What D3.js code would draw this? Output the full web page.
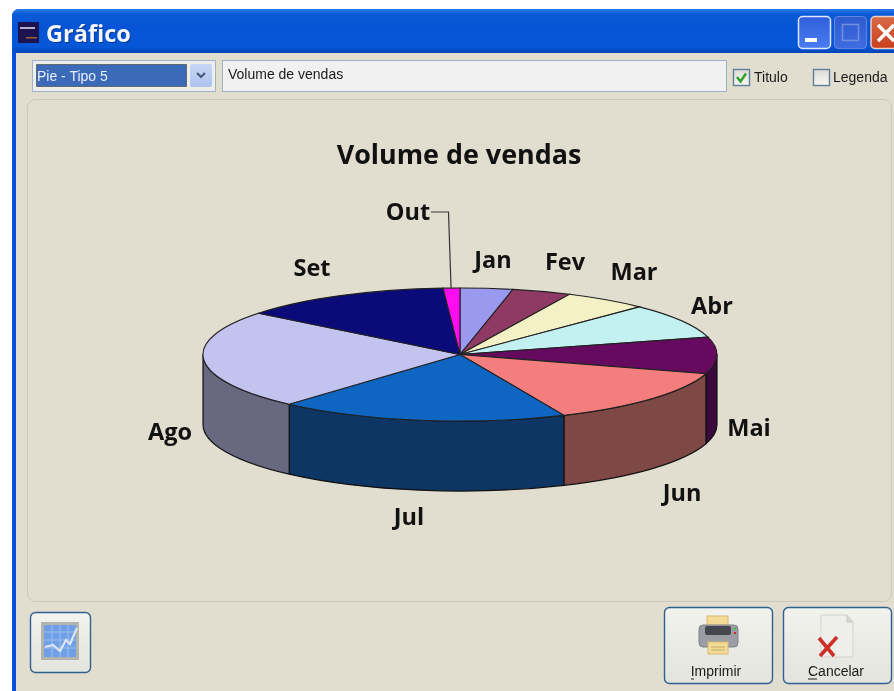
<!DOCTYPE html>
<html>
<head>
<meta charset="utf-8">
<script src="https://cdn.jsdelivr.net/npm/d3@7"></script>
<style>
    html, body { margin: 0; padding: 0; background: #fff; overflow: hidden; }
    .ui { font-family: "Liberation Sans", sans-serif; font-size: 14px; fill: #1a1a1a; }
    .pieLabel { font-family: "Open Sans", sans-serif; font-weight: 700; font-size: 23.5px; fill: #111; text-anchor: middle; }
</style>
</head>
<body>
<div id="chart"></div>
<script>
// values (share of the pie, %)
const months = ["Jan", "Fev", "Mar", "Abr", "Mai", "Jun", "Jul", "Ago", "Set", "Out"];
const sales = [3.3, 3.7, 5.3, 8.5, 8.9, 13.7, 18.2, 24.1, 13.3, 1.05];
const topColors = ["#9999f0", "#8f3a64", "#f3f1c5", "#c3f1f2", "#660a60", "#f47d7d", "#0e66c2", "#c3c3f0", "#0a0a78", "#ff0df0"];
const sideColors = ["#5c5c90", "#56233c", "#929176", "#757f80", "#3a0a3c", "#7e4845", "#0d3665", "#686880", "#06064a", "#990890"];
const chartTitle = "Volume de vendas";

const width = 894, height = 691;
const cx = 460, cy = 354.5, rx = 257, ry = 66.5, depth = 70;

// the reference is a slightly soft screenshot
const svg = d3.select("#chart").append("svg")
    .attr("width", width)
    .attr("height", height)
    .style("display", "block")
    .style("filter", "blur(0.4px)");

const defs = svg.append("defs");

function gradient(id, stops, horizontal) {
    const g = defs.append("linearGradient").attr("id", id)
        .attr("x1", "0%").attr("y1", "0%")
        .attr("x2", horizontal ? "100%" : "0%").attr("y2", horizontal ? "0%" : "100%");
    stops.forEach(s => g.append("stop").attr("offset", s[0]).attr("stop-color", s[1]));
}
gradient("titleBar", [["0%", "#2a7ae8"], ["12%", "#0a5ad8"], ["45%", "#0654d6"], ["85%", "#0558d8"], ["100%", "#0444b8"]]);
gradient("btnFace", [["0%", "#f2f2ee"], ["100%", "#e4e4de"]]);
gradient("minBtn", [["0%", "#2f5fdc"], ["100%", "#4a7df0"]]);
gradient("maxBtn", [["0%", "#2f5ad0"], ["100%", "#3f6ce0"]]);
gradient("closeBtn", [["0%", "#d86a48"], ["100%", "#c8401c"]]);
gradient("arrowBtn", [["0%", "#c5d5f5"], ["100%", "#aec4ee"]]);
gradient("checkFace", [["0%", "#dcdcd6"], ["100%", "#f6f6f4"]]);

// WINDOW
svg.append("rect").attr("x", 12).attr("y", 9).attr("width", width).attr("height", height)
    .attr("rx", 7).attr("fill", "#0a4fdc");
svg.append("rect").attr("x", 12).attr("y", 9).attr("width", width).attr("height", 44)
    .attr("rx", 7).attr("fill", "url(#titleBar)");
svg.append("rect").attr("x", 16).attr("y", 53).attr("width", width).attr("height", height)
    .attr("fill", "#e1ded0");

// app icon
svg.append("rect").attr("x", 18).attr("y", 22).attr("width", 21).attr("height", 21).attr("fill", "#1c1450");
svg.append("rect").attr("x", 20).attr("y", 27).attr("width", 15).attr("height", 2).attr("fill", "#b8b0c8");
svg.append("rect").attr("x", 26).attr("y", 37).attr("width", 11).attr("height", 1.5).attr("fill", "#a06030");

svg.append("text").attr("x", 46).attr("y", 42).text("Gráfico")
    .attr("font-family", "'Open Sans', sans-serif").attr("font-weight", 700).attr("font-size", 23.5)
    .attr("fill", "#f4f6ff").style("filter", "drop-shadow(1px 1px 0 #083a90)");

// caption buttons
svg.append("rect").attr("x", 798.5).attr("y", 16.5).attr("width", 32).attr("height", 32).attr("rx", 4)
    .attr("fill", "url(#minBtn)").attr("stroke", "#dfe8ff").attr("stroke-width", 1.5);
svg.append("rect").attr("x", 805).attr("y", 38).attr("width", 12).attr("height", 4).attr("fill", "#fff");
svg.append("rect").attr("x", 834.5).attr("y", 16.5).attr("width", 32).attr("height", 32).attr("rx", 4)
    .attr("fill", "url(#maxBtn)").attr("stroke", "#5f84e0").attr("stroke-width", 1.2);
svg.append("rect").attr("x", 842.5).attr("y", 24.5).attr("width", 16).attr("height", 16)
    .attr("fill", "none").attr("stroke", "#6f8ee0").attr("stroke-width", 1.6);
svg.append("rect").attr("x", 871).attr("y", 16.5).attr("width", 32).attr("height", 32).attr("rx", 4)
    .attr("fill", "url(#closeBtn)").attr("stroke", "#eed0c4").attr("stroke-width", 1.5);
svg.append("path").attr("d", "M878,25L894,41M894,25L878,41").attr("stroke", "#fff").attr("stroke-width", 3.5);

// combo box
svg.append("rect").attr("x", 32.5).attr("y", 60.5).attr("width", 183).attr("height", 31)
    .attr("fill", "#eeeeea").attr("stroke", "#9db4c8");
svg.append("rect").attr("x", 36.5).attr("y", 64.5).attr("width", 150).attr("height", 22)
    .attr("fill", "#3a6ab8").attr("stroke", "#2a2a10").attr("stroke-dasharray", "1,1");
svg.append("text").attr("class", "ui").attr("x", 37).attr("y", 81).text("Pie - Tipo 5")
    .style("fill", "#e8eeff");
svg.append("rect").attr("x", 190).attr("y", 64).attr("width", 22).attr("height", 23).attr("rx", 2)
    .attr("fill", "url(#arrowBtn)");
svg.append("path").attr("d", "M197,73L201,77L205,73").attr("fill", "none").attr("stroke", "#4a5a78").attr("stroke-width", 2.2);

// title input
svg.append("rect").attr("x", 222.5).attr("y", 60.5).attr("width", 504).attr("height", 31)
    .attr("fill", "#f1f1f1").attr("stroke", "#9db4c8");
svg.append("text").attr("class", "ui").attr("x", 228).attr("y", 79).text(chartTitle);

// checkboxes
svg.append("rect").attr("x", 733.5).attr("y", 69.5).attr("width", 16).attr("height", 16)
    .attr("fill", "url(#checkFace)").attr("stroke", "#5f7f98").attr("stroke-width", 1.4);
svg.append("path").attr("d", "M737,77L740.5,81.5L746,73.5").attr("fill", "none").attr("stroke", "#28a028").attr("stroke-width", 2.4);
svg.append("text").attr("class", "ui").attr("x", 754).attr("y", 82).text("Titulo");
svg.append("rect").attr("x", 813.5).attr("y", 69.5).attr("width", 16).attr("height", 16)
    .attr("fill", "url(#checkFace)").attr("stroke", "#5f7f98").attr("stroke-width", 1.4);
svg.append("text").attr("class", "ui").attr("x", 833).attr("y", 82).text("Legenda");

// chart panel
svg.append("rect").attr("x", 27.5).attr("y", 99.5).attr("width", 864).attr("height", 502).attr("rx", 8)
    .attr("fill", "#e1ded0").attr("stroke", "#c8c8bc");

// PIE
const pie = d3.pie().sort(null)(sales);
const xScale = d3.scaleLinear().domain([-1, 1]).range([cx - rx, cx + rx]);
const yScale = d3.scaleLinear().domain([-1, 1]).range([cy - ry, cy + ry]);
const arc = d3.arc().innerRadius(0).outerRadius(1);

const px = a => xScale(Math.sin(a));
const py = a => yScale(-Math.cos(a));

function sidePath(a0, a1) {
    return "M" + px(a0) + "," + py(a0)
        + "A" + rx + "," + ry + " 0 0 1 " + px(a1) + "," + py(a1)
        + "L" + px(a1) + "," + (py(a1) + depth)
        + "A" + rx + "," + ry + " 0 0 0 " + px(a0) + "," + (py(a0) + depth) + "Z";
}

// only the front half of the wall can be seen
svg.append("g").selectAll("path")
    .data(pie.filter(d => d.endAngle > Math.PI / 2 && d.startAngle < 3 * Math.PI / 2))
    .enter().append("path")
    .attr("d", d => sidePath(Math.max(d.startAngle, Math.PI / 2), Math.min(d.endAngle, 3 * Math.PI / 2)))
    .attr("fill", d => sideColors[d.index])
    .attr("stroke", "#111")
    .attr("stroke-width", 1.2)
    .attr("stroke-linejoin", "round");

svg.append("g")
    .attr("transform", `translate(${cx},${cy}) scale(${rx},${ry})`)
    .selectAll("path")
    .data(pie)
    .enter().append("path")
    .attr("d", arc)
    .attr("fill", d => topColors[d.index])
    .attr("stroke", "#222")
    .attr("stroke-width", 1.1)
    .attr("vector-effect", "non-scaling-stroke");

// title and labels
svg.append("text").attr("x", 459).attr("y", 164).text(chartTitle)
    .attr("font-family", "'Open Sans', sans-serif").attr("font-weight", 700).attr("font-size", 26.9)
    .attr("text-anchor", "middle").attr("fill", "#111");

const labelAt = {
    Jan: [493, 268], Fev: [565, 270], Mar: [634, 280], Abr: [712, 314], Mai: [749, 436],
    Jun: [682, 501], Jul: [409, 525], Ago: [170, 440], Set: [312, 276], Out: [408, 220]
};
svg.append("g").selectAll("text")
    .data(months)
    .enter().append("text")
    .attr("class", "pieLabel")
    .attr("x", d => labelAt[d][0])
    .attr("y", d => labelAt[d][1])
    .text(d => d);

// leader line for Out
const outSlice = pie[months.indexOf("Out")];
svg.append("path")
    .attr("d", "M431,212H448.5L" + (px(outSlice.startAngle) + 8) + "," + py(outSlice.startAngle))
    .attr("fill", "none").attr("stroke", "#333").attr("stroke-width", 1.2);

// BOTTOM BUTTONS
function button(x, y, w, h) {
    svg.append("rect").attr("x", x + 0.5).attr("y", y + 0.5).attr("width", w).attr("height", h).attr("rx", 5)
        .attr("fill", "url(#btnFace)").attr("stroke", "#2f6090").attr("stroke-width", 1.4);
}

button(30, 612, 60, 60);
svg.append("rect").attr("x", 41).attr("y", 622).attr("width", 38).attr("height", 38).attr("fill", "#b4b4ae");
svg.append("rect").attr("x", 44).attr("y", 625).attr("width", 32).attr("height", 32).attr("fill", "#6f9fe4");
svg.append("path").attr("d", "M44,632H76M44,640H76M44,648H76M52,625V657M60,625V657M68,625V657")
    .attr("stroke", "#9cc0f0").attr("stroke-width", 1);
svg.append("path").attr("d", "M45,647L53,645L60,651L66,640L70,644L77,628")
    .attr("fill", "none").attr("stroke", "#dde6f0").attr("stroke-width", 2.2);

button(664, 607, 108, 76);
svg.append("rect").attr("x", 707).attr("y", 616).attr("width", 21).attr("height", 12).attr("fill", "#f4dc98").attr("stroke", "#d8b868");
svg.append("rect").attr("x", 699).attr("y", 625).attr("width", 39).attr("height", 22).attr("rx", 4).attr("fill", "#9a9ea4").attr("stroke", "#80848a");
svg.append("rect").attr("x", 705).attr("y", 626).attr("width", 26).attr("height", 9).attr("rx", 2).attr("fill", "#44484e");
svg.append("rect").attr("x", 734).attr("y", 628).attr("width", 2).attr("height", 2).attr("fill", "#40c040");
svg.append("rect").attr("x", 734).attr("y", 632).attr("width", 2).attr("height", 2).attr("fill", "#d02020");
svg.append("rect").attr("x", 708).attr("y", 642).attr("width", 20).attr("height", 12).attr("fill", "#f4dc98").attr("stroke", "#d8b868");
svg.append("path").attr("d", "M711,647H725M711,650H725").attr("stroke", "#c0a868");
svg.append("text").attr("class", "ui").attr("x", 716).attr("y", 676).attr("text-anchor", "middle").text("Imprimir");
svg.append("path").attr("d", "M691,679H694").attr("stroke", "#222");

button(783, 607, 108, 76);
svg.append("path").attr("d", "M821,615H847L853,622V657H821Z").attr("fill", "#eeeeea").attr("stroke", "#d4d4cc");
svg.append("path").attr("d", "M847,615V622H853").attr("fill", "#d8d8d0").attr("stroke", "#c8c8c0");
svg.append("path").attr("d", "M819,638L834,656M837,637L820,656").attr("stroke", "#cc3028").attr("stroke-width", 3.6);
svg.append("text").attr("class", "ui").attr("x", 836).attr("y", 676).attr("text-anchor", "middle").text("Cancelar");
svg.append("path").attr("d", "M808,679H817").attr("stroke", "#222");
</script>
</body>
</html>
